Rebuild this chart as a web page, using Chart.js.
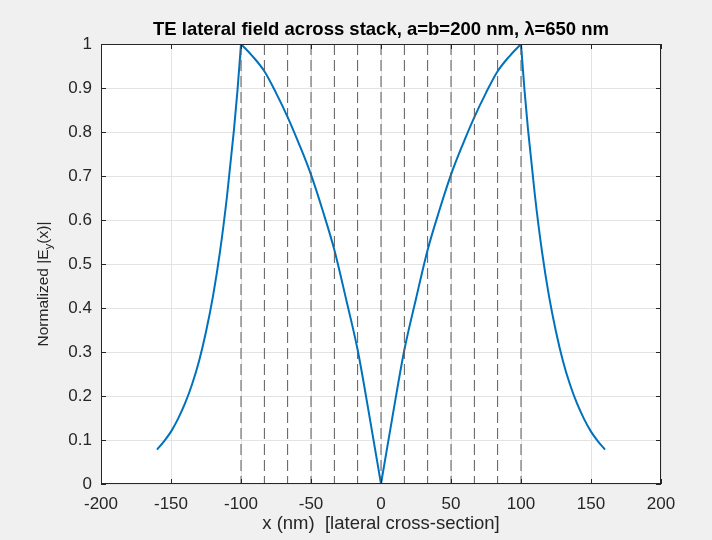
<!DOCTYPE html>
<html>
<head>
<meta charset="utf-8">
<script src="https://cdn.jsdelivr.net/npm/chart.js@4"></script>
<style>
  body { margin: 0; background: #f0f0f0; }
  #wrap { width: 712px; height: 540px; }
</style>
</head>
<body>
<div id="wrap"><canvas id="fieldChart"></canvas></div>
<script>
// --- Data ---
const outerLeftX = [-160, -155, -150, -145, -140, -135, -130, -125, -120, -115, -110, -105, -102.5, -100];
const outerLeftY = [0.078, 0.097, 0.119, 0.148, 0.183, 0.226, 0.279, 0.346, 0.427, 0.528, 0.654, 0.806, 0.895, 1.000];
const innerLeftX = [-100, -91.7, -83.3, -75, -66.7, -58.3, -50, -41.7, -33.3, -25, -16.7, -8.3, 0];
const innerLeftY = [1.000, 0.972, 0.938, 0.889, 0.834, 0.771, 0.703, 0.622, 0.532, 0.421, 0.305, 0.155, 0];
const innerRightX = [0, 8.3, 16.7, 25, 33.3, 41.7, 50, 58.3, 66.7, 75, 83.3, 91.7, 100];
const innerRightY = [0, 0.155, 0.305, 0.421, 0.532, 0.622, 0.703, 0.771, 0.834, 0.889, 0.938, 0.972, 1.000];
const outerRightX = [100, 102.5, 105, 110, 115, 120, 125, 130, 135, 140, 145, 150, 155, 160];
const outerRightY = [1.000, 0.895, 0.806, 0.654, 0.528, 0.427, 0.346, 0.279, 0.226, 0.183, 0.148, 0.119, 0.097, 0.078];

// layer boundaries (dashed)
const boundaryX = [-100, -83.3, -66.7, -50, -33.3, -16.7, 0, 16.7, 33.3, 50, 66.7, 83.3, 100];

const titleText = "TE lateral field across stack, a=b=200 nm, \u03bb=650 nm";
const xLabel = "x (nm)  [lateral cross-section]";

const FONT = "'Liberation Sans', Arial, Helvetica, sans-serif";
const lineBlue = "#0072BD";

function pts(xs, ys) {
  return xs.map((x, i) => ({ x, y: ys[i] }));
}

const datasets = [];
boundaryX.forEach(bx => {
  datasets.push({
    data: [{ x: bx, y: 1 }, { x: bx, y: 0 }],
    borderColor: "#5a5a5a",
    borderWidth: 1,
    borderDash: [11, 5],
    pointRadius: 0,
    tension: 0
  });
});
[[outerLeftX, outerLeftY], [innerLeftX, innerLeftY], [innerRightX, innerRightY], [outerRightX, outerRightY]].forEach(([xs, ys]) => {
  datasets.push({
    data: pts(xs, ys),
    borderColor: lineBlue,
    borderWidth: 2,
    pointRadius: 0,
    cubicInterpolationMode: "monotone"
  });
});

// --- Figure decorations: background, box, inward ticks, title, y label ---
const matlabFrame = {
  id: "matlabFrame",
  beforeDraw(chart) {
    const { ctx, chartArea: a } = chart;
    ctx.save();
    ctx.fillStyle = "#f0f0f0";
    ctx.fillRect(0, 0, chart.width, chart.height);
    ctx.fillStyle = "#ffffff";
    ctx.fillRect(a.left, a.top, a.right - a.left, a.bottom - a.top);
    ctx.restore();
  },
  afterDraw(chart) {
    const { ctx, chartArea: a, scales } = chart;
    ctx.save();
    ctx.strokeStyle = "#262626";
    ctx.lineWidth = 1;
    ctx.strokeRect(a.left + 0.5, a.top + 0.5, a.right - a.left - 1, a.bottom - a.top - 1);

    // inward ticks on all sides
    const tl = 5;
    ctx.beginPath();
    scales.x.ticks.forEach(t => {
      const px = Math.round(scales.x.getPixelForValue(t.value)) + 0.5;
      ctx.moveTo(px, a.bottom); ctx.lineTo(px, a.bottom - tl);
      ctx.moveTo(px, a.top); ctx.lineTo(px, a.top + tl);
    });
    scales.y.ticks.forEach(t => {
      const py = Math.round(scales.y.getPixelForValue(t.value)) + 0.5;
      ctx.moveTo(a.left, py); ctx.lineTo(a.left + tl, py);
      ctx.moveTo(a.right, py); ctx.lineTo(a.right - tl, py);
    });
    ctx.stroke();

    // title
    ctx.fillStyle = "#000000";
    ctx.font = "bold 18.5px " + FONT;
    ctx.textAlign = "center";
    ctx.textBaseline = "middle";
    ctx.fillText(titleText, (a.left + a.right) / 2, 30);

    // y label with subscript
    ctx.fillStyle = "#262626";
    const main = "Normalized |E";
    const sub = "y";
    const tail = "(x)|";
    ctx.font = "15.5px " + FONT;
    const w1 = ctx.measureText(main).width;
    const w3 = ctx.measureText(tail).width;
    ctx.font = "11.5px " + FONT;
    const w2 = ctx.measureText(sub).width;
    const total = w1 + w2 + w3;
    ctx.translate(43, 284);
    ctx.rotate(-Math.PI / 2);
    ctx.textAlign = "left";
    ctx.textBaseline = "alphabetic";
    const x0 = -total / 2;
    ctx.font = "15.5px " + FONT;
    ctx.fillText(main, x0, 5);
    ctx.font = "11.5px " + FONT;
    ctx.fillText(sub, x0 + w1, 9);
    ctx.font = "15.5px " + FONT;
    ctx.fillText(tail, x0 + w1 + w2, 5);
    ctx.restore();
  }
};

const ctx = document.getElementById("fieldChart").getContext("2d");
new Chart(ctx, {
  type: "line",
  data: { datasets },
  options: {
    responsive: true,
    maintainAspectRatio: false,
    animation: false,
    layout: { padding: { left: 0, right: 51, top: 44, bottom: 0 } },
    plugins: {
      legend: { display: false },
      tooltip: { enabled: false },
      title: { display: false }
    },
    scales: {
      x: {
        type: "linear",
        min: -200,
        max: 200,
        afterFit: s => { s.height = 56; },
        ticks: {
          stepSize: 50,
          color: "#262626",
          font: { family: FONT, size: 17 },
          padding: 10,
          maxRotation: 0
        },
        grid: { color: "#e3e3e3", drawTicks: false },
        border: { display: false },
        title: {
          display: true,
          text: xLabel,
          color: "#262626",
          font: { family: FONT, size: 18.5 },
          padding: { top: 0, bottom: 5 }
        }
      },
      y: {
        type: "linear",
        min: 0,
        max: 1,
        afterFit: s => { s.width = 101; },
        ticks: {
          stepSize: 0.1,
          color: "#262626",
          font: { family: FONT, size: 17 },
          padding: 9,
          callback: v => String(+v.toFixed(1))
        },
        grid: { color: "#e3e3e3", drawTicks: false },
        border: { display: false }
      }
    }
  },
  plugins: [matlabFrame]
});
</script>
</body>
</html>
